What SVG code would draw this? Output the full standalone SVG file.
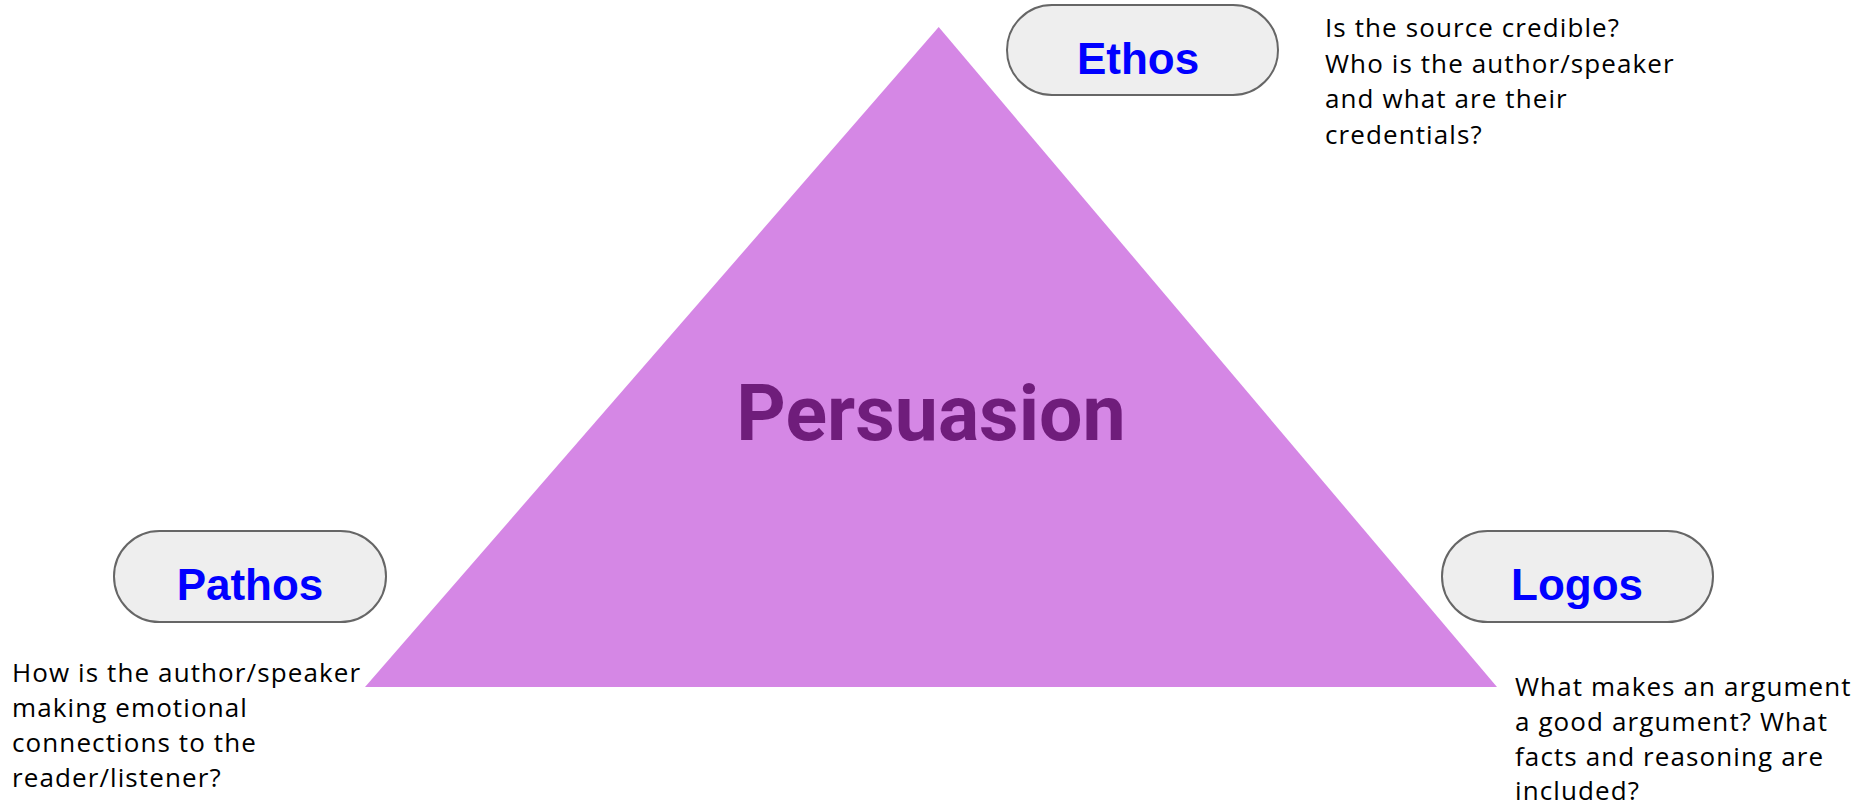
<svg xmlns="http://www.w3.org/2000/svg" width="1864" height="806" viewBox="0 0 1864 806">
<style>
.pill{fill:#eeeeee;stroke:#666666;stroke-width:2}
.lbl{font-family:"Liberation Sans",Arial,sans-serif;font-weight:bold;font-size:44px;fill:#0000ff;text-anchor:middle}
.desc{font-family:"Open Sans",sans-serif;font-size:26px;letter-spacing:1.1px;fill:#000000}
.title{font-family:Roboto,"Liberation Sans",sans-serif;font-weight:bold;font-size:77px;fill:#6f1d7b;text-anchor:middle}
</style>
<rect width="1864" height="806" fill="#ffffff"/>
<g id="triangle">
<polygon points="938.7,27 365,687 1497,687" fill="#d587e5"/>
<text class="title" x="931" y="440">Persuasion</text>
</g>
<g id="ethos">
<rect class="pill" x="1007" y="5" width="271" height="90" rx="45"/>
<text class="lbl" x="1138" y="74">Ethos</text>
</g>
<g id="ethos-desc">
<text class="desc"><tspan x="1325" y="37">Is the source credible?</tspan><tspan x="1325" y="73">Who is the author/speaker</tspan><tspan x="1325" y="108">and what are their</tspan><tspan x="1325" y="144">credentials?</tspan></text>
</g>
<g id="pathos">
<rect class="pill" x="114" y="531" width="272" height="91" rx="45.5"/>
<text class="lbl" x="250" y="600">Pathos</text>
</g>
<g id="pathos-desc">
<text class="desc"><tspan x="12" y="682">How is the author/speaker</tspan><tspan x="12" y="717">making emotional</tspan><tspan x="12" y="752">connections to the</tspan><tspan x="12" y="787">reader/listener?</tspan></text>
</g>
<g id="logos">
<rect class="pill" x="1442" y="531" width="271" height="91" rx="45.5"/>
<text class="lbl" x="1577" y="600">Logos</text>
</g>
<g id="logos-desc">
<text class="desc"><tspan x="1515" y="696">What makes an argument</tspan><tspan x="1515" y="731">a good argument? What</tspan><tspan x="1515" y="766">facts and reasoning are</tspan><tspan x="1515" y="800">included?</tspan></text>
</g>
<g id="connectors"></g>
</svg>
